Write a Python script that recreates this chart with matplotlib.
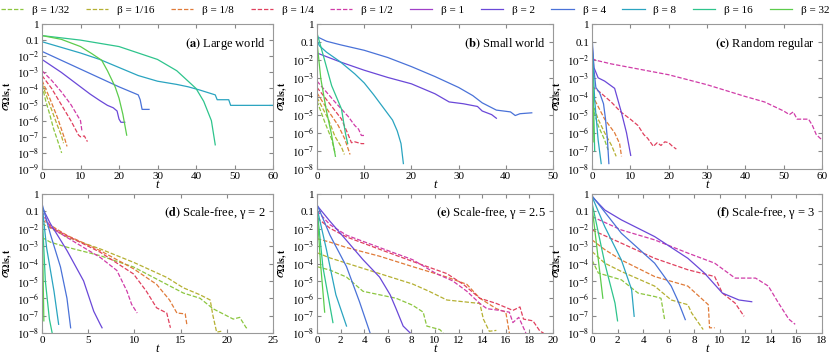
import math
import matplotlib
matplotlib.use("Agg")
import matplotlib.pyplot as plt
from matplotlib.ticker import FixedLocator, FuncFormatter, NullFormatter

plt.rcParams['font.family'] = ['Liberation Serif', 'DejaVu Serif']
plt.rcParams['mathtext.fontset'] = 'stix'

# === DATA ===
betas = ['1/32', '1/16', '1/8', '1/4', '1/2', '1', '2', '4', '8', '16', '32']
colors = ['#8cc63f', '#b5b032', '#e07b39', '#e0405e', '#d03ca8', '#a040c8',
          '#6a48d8', '#4a72d8', '#2aa4c0', '#2ec48c', '#5ccc4c']
titles = [r'$\mathbf{(a)}$ Large world', r'$\mathbf{(b)}$ Small world',
          r'$\mathbf{(c)}$ Random regular', r'$\mathbf{(d)}$ Scale-free, γ = 2',
          r'$\mathbf{(e)}$ Scale-free, γ = 2.5', r'$\mathbf{(f)}$ Scale-free, γ = 3']
xmax = [60, 50, 60, 25, 20, 18]
xstep = [10, 10, 10, 5, 2, 2]
ymin_exp = [-9, -8, -8, -8, -8, -8]

# each curve: (t values, log10 sigma values)
panel_a = {
    '1/32': ([0, 1, 2, 3, 4, 5.1], [-3.8, -4.8, -5.6, -6.5, -7.2, -8.0]),
    '1/16': ([0, 2, 4, 5, 5.6], [-3.7, -5.0, -6.3, -6.9, -7.4]),
    '1/8': ([0, 2, 4, 5, 6, 6.5], [-3.5, -4.6, -5.8, -6.5, -7.2, -7.6]),
    '1/4': ([0, 2.5, 5, 7.5, 9.5, 10, 11, 11.8], [-3.2, -4.0, -5.0, -6.0, -6.9, -7.0, -6.95, -7.3]),
    '1/2': ([0, 2.5, 5, 7.5, 10, 10.4], [-2.9, -3.5, -4.2, -5.0, -6.0, -6.7]),
    '2': ([0, 2.5, 5, 7.5, 10, 12.5, 15, 17, 18.5, 19.5, 20, 20.5, 21.5],
          [-2.2, -2.6, -3.0, -3.45, -3.9, -4.35, -4.75, -5.05, -5.2, -5.4, -5.9, -6.1, -6.1]),
    '4': ([0, 5, 10, 15, 20, 23, 25, 25.5, 26, 27.8],
          [-1.7, -2.25, -2.8, -3.35, -3.9, -4.2, -4.4, -4.7, -5.3, -5.3]),
    '8': ([0, 5, 10, 15, 20, 25, 30, 35, 38, 41, 45, 45.5, 48.5, 49, 60],
          [-1.1, -1.45, -1.8, -2.2, -2.7, -3.2, -3.55, -3.75, -3.9, -4.1, -4.4, -4.7, -4.7, -5.05, -5.05]),
    '16': ([0, 10, 20, 30, 35, 40, 42, 44, 45],
           [-0.72, -1.0, -1.4, -2.2, -2.9, -4.0, -4.8, -6.0, -7.5]),
    '32': ([0, 5, 10, 13, 15.5, 17, 19, 20, 21, 22],
           [-0.72, -0.95, -1.4, -1.85, -2.25, -2.9, -3.9, -4.6, -5.6, -6.9]),
}

panel_b = {
    '1/32': ([0, 1.7, 3.1, 3.8], [-4.25, -5.45, -6.35, -7.1]),
    '1/16': ([0, 2.4, 3.8, 5.2, 5.8], [-4.05, -5.25, -6.2, -6.8, -7.2]),
    '1/8': ([0, 2.4, 4.5, 5.9, 7.0], [-3.8, -4.8, -5.6, -6.35, -7.2]),
    '1/4': ([0, 2.4, 5.2, 6.6, 7.3, 8, 9.4, 10],
            [-3.5, -4.3, -5.25, -6.1, -6.55, -6.5, -6.6, -6.6]),
    '1/2': ([0, 3.8, 6.6, 8, 8.8, 9.4, 10], [-3.15, -4.3, -5.1, -5.6, -5.8, -6.15, -6.15]),
    '2': ([0, 5, 10, 15, 20, 25, 28, 31, 34, 35, 37, 38],
          [-1.6, -2.1, -2.55, -2.95, -3.3, -3.85, -4.3, -4.4, -4.55, -4.8, -5.0, -5.2]),
    '4': ([0, 2, 5, 10, 15, 20, 25, 30, 33, 35, 38, 41, 42, 43, 45.5],
          [-0.7, -0.95, -1.15, -1.45, -1.85, -2.35, -2.9, -3.5, -3.95, -4.35, -4.75, -4.85, -5.05, -4.95, -4.9]),
    '8': ([0, 0.5, 2, 5, 8, 10, 12, 14, 16, 17, 17.8, 18.3],
          [-0.9, -1.2, -1.55, -2.1, -2.75, -3.25, -3.9, -4.6, -5.3, -5.9, -6.6, -7.7]),
    '16': ([0, 1.4, 3.1, 5.2, 6.0, 6.5], [-0.5, -1.8, -3.4, -4.7, -6.0, -6.6]),
    '32': ([0, 0.8, 2.0, 3.0, 3.9], [-1.0, -3.0, -4.8, -6.0, -7.3]),
}

panel_c = {
    '1/32': ([0, 1.6, 3.3, 4.2], [-4.5, -5.6, -6.4, -6.95]),
    '1/16': ([0, 1.6, 3.3, 5.1, 6.3], [-4.3, -5.25, -6.0, -6.7, -7.3]),
    '1/8': ([0, 3.3, 5.9, 7.2, 7.7], [-3.9, -5.25, -6.0, -6.6, -7.3]),
    '1/4': ([0, 2, 5, 7.5, 10, 12, 13.5, 14.5, 16, 17, 18, 19, 20, 21, 22],
            [-3.45, -3.75, -4.3, -4.85, -5.25, -5.6, -6.1, -6.3, -6.75, -6.55, -6.7, -6.5, -6.55, -6.75, -6.9]),
    '1/2': ([0, 1, 5, 10, 20, 30, 40, 45, 50, 51.5, 52.5, 53.5, 56.5, 57.5, 58.5, 59.5, 60],
            [-1.9, -2.0, -2.2, -2.4, -2.8, -3.35, -4.0, -4.3, -4.8, -5.0, -4.85, -5.25, -5.25, -5.6, -6.1, -6.3, -6.4]),
    '2': ([0, 0.5, 1.6, 3.3, 5.9, 7.7, 9, 10.1],
          [-1.0, -2.4, -2.97, -3.15, -3.55, -4.9, -6.0, -7.25]),
    '4': ([0, 0.5, 1, 2, 3, 3.5, 4, 4.4], [-0.6, -2.5, -3.5, -3.8, -4.4, -5.2, -6.3, -7.7]),
    '8': ([0, 0.7, 1.6, 2.4], [-1.0, -4.2, -6.4, -7.7]),
    '16': ([0, 0.4, 0.7], [-1.2, -4.5, -7.0]),
    '32': ([0, 0.3, 0.5], [-1.4, -4.5, -6.5]),
}

panel_d = {
    '1/32': ([0, 0.9, 2.7, 6.3, 9.9, 13.5, 15.3, 17.1, 18.5, 20.7, 21.4, 22.1, 22.3],
             [-2.5, -2.77, -3.06, -3.55, -4.2, -5.2, -5.7, -6.0, -6.6, -7.2, -7.1, -7.7, -7.7]),
    '1/16': ([0, 2.7, 6.3, 9.9, 13.5, 15.3, 17.1, 18.2, 18.5, 18.9, 19.4],
             [-1.7, -2.48, -3.16, -3.93, -4.8, -5.4, -5.8, -6.1, -7.0, -7.95, -7.9]),
    '1/8': ([0, 2.7, 6.3, 9.9, 12.4, 13.8, 14.6, 15.5, 15.7],
            [-1.5, -2.38, -3.26, -4.3, -5.2, -6.1, -6.85, -6.9, -7.6]),
    '1/4': ([0, 0.9, 2.7, 6.3, 9.9, 11.3, 12.4, 13.5, 13.9],
            [-1.2, -1.9, -2.4, -3.35, -4.6, -5.6, -6.55, -6.85, -7.7]),
    '1/2': ([0, 0.9, 2.7, 6.3, 8.1, 9.2, 9.7, 10.3],
            [-1.0, -1.9, -2.5, -3.65, -4.4, -5.6, -6.35, -6.85]),
    '2': ([0, 0.9, 2.7, 4.5, 5.6, 6.3, 6.5], [-0.75, -1.7, -3.25, -5.0, -6.75, -7.5, -7.7]),
    '4': ([0, 0.9, 2.0, 2.7, 3.1], [-0.55, -2.3, -4.2, -6.0, -7.7]),
    '8': ([0, 0.5, 1.3, 1.8], [-0.6, -3.1, -5.6, -7.5]),
    '16': ([0, 0.36, 0.8, 1.1], [-0.9, -5.0, -7.2, -8.0]),
    '32': ([0, 0.1, 0.2], [-1.1, -4.0, -7.3]),
}

panel_e = {
    '1/32': ([0, 1.1, 2.5, 3.9, 5.3, 6.7, 8.1, 9.0, 9.3, 10.4, 10.7],
             [-4.18, -4.38, -4.78, -5.6, -5.8, -6.0, -6.4, -6.8, -7.6, -7.8, -8.0]),
    '1/16': ([0, 1.1, 2.5, 5.3, 8.1, 9.5, 11, 12.4, 13.8, 14.1, 14.6, 15.2],
             [-3.38, -3.68, -3.98, -4.58, -5.18, -5.6, -6.1, -6.2, -6.3, -7.2, -7.9, -7.85]),
    '1/8': ([0, 1.1, 2.5, 5.3, 8.1, 11, 12.7, 13.8, 15.2, 16.0, 16.3],
            [-2.57, -2.77, -3.08, -3.58, -4.18, -4.78, -5.2, -6.0, -6.6, -6.8, -8.0]),
    '1/4': ([0, 1.1, 2.5, 5.3, 8.1, 11, 12.4, 13.8, 15.2, 16.6, 17.2, 17.5, 18.3, 18.9, 19.2],
            [-1.37, -1.97, -2.47, -3.18, -3.88, -4.58, -5.2, -6.0, -6.3, -6.7, -6.5, -7.2, -7.3, -7.9, -8.0]),
    '1/2': ([0, 1.1, 2.5, 5.3, 8.1, 10.1, 11.5, 12.7, 13.8, 14.4, 15.5, 16.3, 16.6, 17.1, 17.7],
            [-0.96, -1.77, -2.37, -3.08, -3.78, -4.58, -5.0, -5.6, -6.3, -6.6, -6.7, -6.8, -7.4, -7.1, -8.0]),
    '2': ([0, 1.1, 2.5, 3.9, 5.3, 6.2, 6.7, 7.3, 7.9],
          [-0.66, -1.57, -2.67, -3.78, -4.78, -5.8, -6.6, -7.6, -8.0]),
    '4': ([0, 1.1, 2.5, 3.6, 4.5], [-0.6, -2.37, -4.18, -6.2, -8.0]),
    '8': ([0, 0.8, 1.6, 2.5], [-0.8, -3.2, -5.8, -7.6]),
    '16': ([0, 0.5, 1.35], [-0.8, -4.2, -7.4]),
    '32': ([0, 0.3, 0.65], [-0.9, -4.0, -6.8]),
}

panel_f = {
    '1/32': ([0, 0.5, 2.3, 3.6, 4.9, 5.4, 5.7], [-3.8, -4.55, -4.94, -5.7, -5.9, -6.0, -7.3]),
    '1/16': ([0, 1.0, 2.3, 4.9, 6.2, 7.5, 7.8, 8.7], [-3.31, -3.98, -4.46, -5.3, -6.1, -6.37, -6.85, -7.8]),
    '1/8': ([0, 1.0, 2.3, 4.9, 7.5, 9.1, 9.2, 9.6], [-2.64, -3.2, -3.8, -4.75, -5.3, -6.37, -7.7, -7.7]),
    '1/4': ([0, 2.3, 4.9, 7.5, 9.6, 10.2, 11.2, 11.9], [-2.07, -2.83, -3.7, -4.36, -4.75, -5.7, -6.28, -7.04]),
    '1/2': ([0, 2.3, 4.9, 7.5, 9.6, 11.2, 12.8, 13.8, 14.6, 15.4, 15.9],
            [-1.3, -2.07, -2.64, -3.4, -3.98, -4.84, -4.84, -5.3, -6.28, -7.2, -7.5]),
    '2': ([0, 1.0, 2.3, 4.9, 7.5, 8.8, 10.2, 11.5, 12.5], [-0.15, -0.92, -1.49, -2.45, -3.7, -4.55, -5.7, -6.1, -6.2]),
    '4': ([0, 2.3, 4.9, 6.2, 6.7, 7.3], [-0.1, -2.26, -3.98, -5.3, -6.1, -7.23]),
    '8': ([0, 1.0, 2.3, 3.1, 3.3], [-0.15, -1.88, -3.8, -5.5, -7.04]),
    '16': ([0, 1.0, 1.8, 2.0], [-0.5, -3.98, -6.28, -7.3]),
    '32': ([0, 0.85], [-0.7, -6.0]),
}

panels = [panel_a, panel_b, panel_c, panel_d, panel_e, panel_f]

# === LAYOUT (pixel boxes -> figure fractions) ===
W, H = 830, 359
boxes = [(42, 24, 273, 169), (317, 24, 553, 169), (592, 24, 822, 169),
         (42, 194, 273, 333), (317, 194, 553, 333), (592, 194, 822, 333)]
dashed = ('1/32', '1/16', '1/8', '1/4', '1/2')
dash = (0, (3.5, 1.5))

fig = plt.figure(figsize=(W / 100, H / 100), dpi=100)


def ylab(v, pos):
    if v >= 0.99:
        return '1'
    if v >= 0.099:
        return '0.1'
    return r'$10^{%d}$' % int(round(math.log10(v)))


for i, data in enumerate(panels):
    x0, y0, x1, y1 = boxes[i]
    ax = fig.add_axes([x0 / W, 1 - y1 / H, (x1 - x0) / W, (y1 - y0) / H])
    for b, c in zip(betas, colors):
        if b not in data:
            continue
        t, lg = data[b]
        ax.plot(t, [10 ** v for v in lg], color=c, lw=0.9,
                ls=dash if b in dashed else '-')
    ax.set_yscale('log')
    ax.set_ylim(10 ** ymin_exp[i], 1)
    ax.set_xlim(0, xmax[i])
    ax.set_xticks(range(0, xmax[i] + 1, xstep[i]))
    ax.yaxis.set_major_locator(FixedLocator([10 ** k for k in range(ymin_exp[i], 1)]))
    ax.yaxis.set_major_formatter(FuncFormatter(ylab))
    ax.yaxis.set_minor_formatter(NullFormatter())
    ax.tick_params(which='both', direction='in', top=True, right=True,
                   labelsize=8, color='#888888', pad=2)
    ax.tick_params(which='major', length=3)
    ax.tick_params(which='minor', length=1.5)
    for s in ax.spines.values():
        s.set_color('#999999')
        s.set_linewidth(0.8)
    ax.set_xlabel('t', style='italic', fontsize=9, labelpad=-1)
    ax.set_ylabel(r'$\sigma_{\mathbf{\Omega|s,t}}$', fontsize=10, labelpad=1)
    ax.text(0.97, 0.86, titles[i], transform=ax.transAxes, ha='right',
            va='center', fontsize=9)

# legend handles
handles = [plt.Line2D([], [], color=c, lw=0.9, ls=dash if b in dashed else '-',
                      label='β = ' + b) for b, c in zip(betas, colors)]
fig.legend(handles=handles, loc='upper center', bbox_to_anchor=(0.5, 1.005), ncol=11,
           frameon=False, fontsize=8, handlelength=2.0, handletextpad=0.8,
           columnspacing=1.5, borderaxespad=0.2)

fig.savefig('out.png', dpi=100)
